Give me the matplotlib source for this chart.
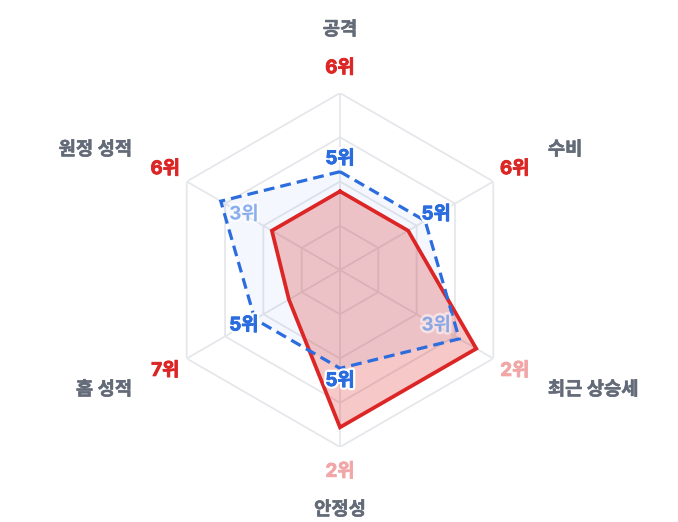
import numpy as np
import matplotlib
matplotlib.use("Agg")
import matplotlib.pyplot as plt
import matplotlib.patheffects as pe

plt.rcParams['font.family'] = ['Inter', 'Noto Sans CJK KR', 'DejaVu Sans']

# ---- data ----
categories = ['공격', '수비', '최근 상승세', '안정성', '홈 성적', '원정 성적']
team_ranks = [6, 6, 2, 2, 7, 6]        # red series
compare_ranks = [5, 5, 3, 5, 5, 3]     # blue dashed series
N_TEAMS = 10
grid_levels = [0.25, 0.5, 0.75, 1.0]

RED = '#dc2626'
RED_PALE = '#f1a7a7'
BLUE = '#2b6cde'
GRID = '#e5e7eb'
LABEL_GRAY = '#646b78'

def rank_to_r(r):
    return (N_TEAMS - r) / (N_TEAMS - 1)

W, H = 678, 522
fig = plt.figure(figsize=(W / 100, H / 100), dpi=100)
cx, cy, R = 340, 270, 177
ax = fig.add_axes([(cx - R) / W, (H - cy - R) / H, 2 * R / W, 2 * R / H], projection='polar')
ax.set_theta_zero_location('N')
ax.set_theta_direction(-1)
ax.set_ylim(0, 1)
ax.axis('off')

n = len(categories)
theta = np.arange(n) * 2 * np.pi / n
theta_c = np.append(theta, theta[0])

# grid hexagons and spokes
for lv in grid_levels:
    ax.plot(theta_c, [lv] * (n + 1), color=GRID, lw=1.3, zorder=1)
for t in theta:
    ax.plot([t, t], [0, 1], color=GRID, lw=1.3, zorder=1)

r_team = [rank_to_r(v) for v in team_ranks]
r_cmp = [rank_to_r(v) for v in compare_ranks]
r_team_c = r_team + r_team[:1]
r_cmp_c = r_cmp + r_cmp[:1]

ax.fill(theta_c, r_cmp_c, color=BLUE, alpha=0.05, lw=0, zorder=2)
ax.fill(theta_c, r_team_c, color=RED, alpha=0.25, lw=0, zorder=3)
ax.plot(theta_c, r_team_c, color=RED, lw=2.7, solid_joinstyle='miter', zorder=4)
ax.plot(theta_c, r_cmp_c, color=BLUE, lw=2.3, linestyle=(0, (3.4, 1.9)),
        dash_joinstyle='miter', zorder=5)

# rank labels
for t, v in zip(theta, team_ranks):
    col = RED if v >= 4 else RED_PALE
    ax.text(t, 1.14, f'{v}위', color=col, fontsize=13.5, fontweight='bold',
            ha='center', va='center', clip_on=False, zorder=6,
            path_effects=[pe.withStroke(linewidth=0.6, foreground=col)])
for t, v in zip(theta, compare_ranks):
    if v >= 4:
        effects = [pe.withStroke(linewidth=3.8, foreground='white'),
                   pe.withStroke(linewidth=0.6, foreground=BLUE)]
        a = 1.0
    else:
        a = 0.38
        effects = [pe.withStroke(linewidth=3.8, foreground='white', alpha=0.5)]
    ax.text(t, 0.627, f'{v}위', color=BLUE, alpha=a, fontsize=13.5, fontweight='bold',
            ha='center', va='center', clip_on=False, zorder=7, path_effects=effects)

# category labels
for t, c in zip(theta, categories):
    s = np.sin(t)
    if abs(s) < 1e-6:
        ha = 'center'
    elif s > 0:
        ha = 'left'
    else:
        ha = 'right'
    ax.text(t, 1.356, c, color=LABEL_GRAY, fontsize=13.5, fontweight='bold',
            ha=ha, va='center', clip_on=False, zorder=6,
            path_effects=[pe.withStroke(linewidth=0.4, foreground=LABEL_GRAY)])

fig.savefig('out.png', dpi=100)
